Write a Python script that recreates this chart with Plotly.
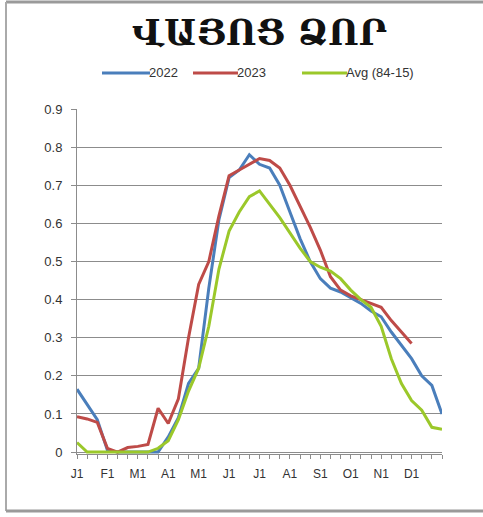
import plotly.graph_objects as go

# ---- data (dekadal points, 37 positions) ----
month_labels = ["J1", "F1", "M1", "A1", "M1", "J1", "J1", "A1", "S1", "O1", "N1", "D1"]
y_tick_labels = ["0", "0.1", "0.2", "0.3", "0.4", "0.5", "0.6", "0.7", "0.8", "0.9"]

s2022 = [0.165, 0.125, 0.085, 0.005, 0.0, 0.0, 0.0, 0.0, 0.0, 0.04, 0.09, 0.18,
         0.22, 0.43, 0.61, 0.72, 0.74, 0.78, 0.755, 0.745, 0.70, 0.63, 0.56, 0.50,
         0.455, 0.43, 0.42, 0.405, 0.39, 0.37, 0.355, 0.315, 0.28, 0.245, 0.20, 0.175, 0.10]

s2023 = [0.093, 0.087, 0.078, 0.01, 0.0, 0.012, 0.015, 0.02, 0.115, 0.075, 0.14, 0.30,
         0.44, 0.50, 0.62, 0.725, 0.74, 0.755, 0.77, 0.765, 0.745, 0.70, 0.645, 0.59,
         0.53, 0.46, 0.425, 0.41, 0.40, 0.39, 0.38, 0.345, 0.315, 0.285, None, None, None]

s_avg = [0.025, 0.0, 0.0, 0.0, 0.0, 0.0, 0.0, 0.0, 0.01, 0.03, 0.085, 0.16,
         0.22, 0.33, 0.48, 0.58, 0.63, 0.67, 0.685, 0.65, 0.615, 0.575, 0.535, 0.50,
         0.485, 0.475, 0.455, 0.425, 0.40, 0.38, 0.33, 0.245, 0.18, 0.135, 0.11, 0.065, 0.06]

series_names = ["2022", "2023", "Avg (84-15)"]
series_values = [s2022, s2023, s_avg]
colors = ["#4A7EBB", "#BE4B48", "#9BC82A"]

x = list(range(len(s2022)))
tickvals = x
ticktext = [month_labels[i // 3] if (i % 3 == 0 and i // 3 < len(month_labels)) else "" for i in x]

fig = go.Figure()
for name, vals, c in zip(series_names, series_values, colors):
    fig.add_trace(go.Scatter(x=x, y=vals, mode="lines", name=name,
                             line=dict(color=c, width=3), showlegend=False,
                             connectgaps=False))

W, H = 483, 517
L, R, T, B = 77, 442, 109, 454

def px(xp):
    return (xp - L) / (R - L)

def py(yp):
    return (B - yp) / (B - T)

shapes = []
annotations = []
# custom legend
legend_items = [(102, 150, 147), (193, 238, 235), (302, 347, 344)]
for (x0, x1, tx), name, c in zip(legend_items, series_names, colors):
    shapes.append(dict(type="line", xref="paper", yref="paper",
                       x0=px(x0), x1=px(x1), y0=py(73), y1=py(73),
                       line=dict(color=c, width=3)))
    annotations.append(dict(text=name, xref="paper", yref="paper",
                            x=px(tx), y=py(73), xanchor="left", yanchor="middle",
                            showarrow=False,
                            font=dict(family="Liberation Sans, Arial", size=13, color="#333333")))

# outer frame (top, left, bottom)
frame = dict(color="#9a9a9a", width=3)
shapes.append(dict(type="line", xref="paper", yref="paper",
                   x0=px(6), x1=px(483), y0=py(2), y1=py(2), line=frame))
shapes.append(dict(type="line", xref="paper", yref="paper",
                   x0=px(6), x1=px(6), y0=py(2), y1=py(511), line=dict(color="#aaaaaa", width=2)))
shapes.append(dict(type="line", xref="paper", yref="paper",
                   x0=px(6), x1=px(483), y0=py(511), y1=py(511), line=frame))

fig.update_layout(
    width=W, height=H,
    margin=dict(l=L, r=W - R, t=T, b=H - B),
    paper_bgcolor="white", plot_bgcolor="white",
    title=dict(text="<b>ՎԱՅՈՑ ՁՈՐ</b>", x=0.5, xref="paper", xanchor="center",
               y=1 - 33 / H, yref="container", yanchor="middle",
               font=dict(family="DejaVu Serif", size=35, color="#111111")),
    shapes=shapes,
    annotations=annotations,
    showlegend=False,
)
fig.update_xaxes(range=[0, 36], tickvals=tickvals, ticktext=ticktext,
                 showgrid=False, zeroline=False, showline=True,
                 linecolor="#8c8c8c", linewidth=1,
                 ticks="outside", ticklen=4, tickcolor="#8c8c8c", ticklabelstandoff=5,
                 tickfont=dict(family="Liberation Sans, Arial", size=12, color="#333333"))
fig.update_yaxes(range=[-0.005, 0.9],
                 tickvals=[i / 10 for i in range(10)], ticktext=y_tick_labels,
                 showgrid=True, gridcolor="#8c8c8c", gridwidth=1,
                 zeroline=False, showline=True, linecolor="#8c8c8c", linewidth=1,
                 ticks="outside", ticklen=5, tickcolor="#8c8c8c", ticklabelstandoff=6,
                 tickfont=dict(family="Liberation Sans, Arial", size=13, color="#333333"))

fig.write_html("out.html", config={"displayModeBar": False},
               post_script="document.body.style.margin='0';document.body.style.overflow='hidden';")
